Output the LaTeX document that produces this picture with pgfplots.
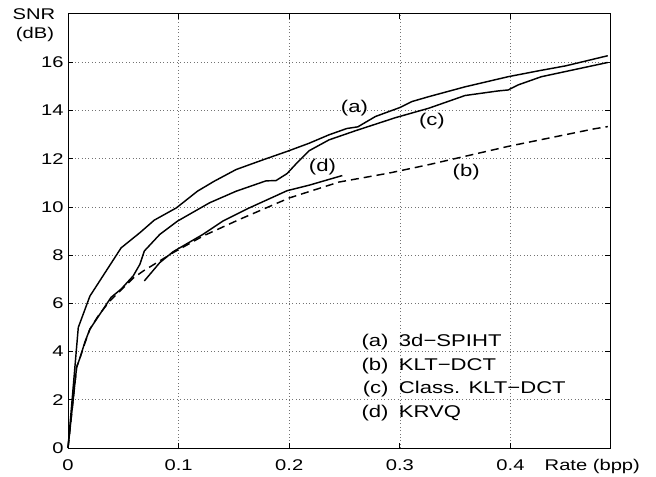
\documentclass[border=0pt]{standalone}
\usepackage{pgfplots}
\pgfplotsset{compat=1.18}
\usepackage{fontspec}
\setmainfont[FakeStretch=1.3]{Liberation Sans}
\newcommand{\tickfont}{\fontsize{15.5bp}{18bp}\selectfont}
\newcommand{\legfont}{\fontsize{17bp}{20bp}\selectfont}
\begin{document}
\begin{tikzpicture}
\begin{axis}[name=ax,
  scale only axis, width=542bp, height=434bp,
  xmin=0, xmax=0.49, ymin=0, ymax=18,
  xtick={0,0.1,0.2,0.3,0.4}, ytick={0,2,4,6,8,10,12,14,16},
  /pgf/number format/assume math mode=true,
  ticklabel style={font=\tickfont},
  xticklabel style={anchor=base, yshift=-22bp},
  yticklabel style={xshift=-1bp},
  grid=major,
  major grid style={black!55, line width=0.6bp, dash pattern=on 0.8bp off 2.6bp},
  tick align=inside, major tick length=5bp,
  tick style={black, line width=0.7bp},
  axis line style={black, line width=1bp},
  every axis plot/.append style={black, line width=1.45bp, line join=round},
  clip=false]
% (a) 3d-SPIHT
\addplot[solid] coordinates {
(0,0) (0.0093,5.0) (0.0198,6.3) (0.048,8.3) (0.065,8.93) (0.078,9.45)
(0.098,9.96) (0.117,10.65) (0.132,11.06) (0.152,11.55) (0.178,11.98)
(0.198,12.3) (0.218,12.64) (0.236,12.99) (0.252,13.25) (0.262,13.32)
(0.278,13.75) (0.30,14.12) (0.311,14.37) (0.326,14.57) (0.359,14.98)
(0.398,15.4) (0.425,15.64) (0.45,15.85) (0.488,16.27)};
% (b) KLT-DCT
\addplot[dash pattern=on 8bp off 5bp] coordinates {
(0,0) (0.0078,3.35) (0.011,3.76) (0.0153,4.35) (0.0198,4.93) (0.0273,5.48)
(0.0378,6.1) (0.048,6.55) (0.059,7.05) (0.068,7.34) (0.095,8.1) (0.122,8.79)
(0.155,9.48) (0.2,10.37) (0.245,11.03) (0.29,11.4) (0.326,11.75)
(0.398,12.51) (0.476,13.24) (0.488,13.33)};
% (c) Class. KLT-DCT
\addplot[solid] coordinates {
(0,0) (0.0078,3.35) (0.011,3.76) (0.0153,4.4) (0.0198,4.93) (0.0288,5.55)
(0.039,6.25) (0.048,6.59) (0.059,7.14) (0.065,7.62) (0.069,8.17)
(0.083,8.86) (0.099,9.41) (0.128,10.17) (0.152,10.65) (0.179,11.08)
(0.188,11.09) (0.198,11.38) (0.2075,11.85) (0.218,12.33) (0.236,12.78)
(0.26,13.16) (0.296,13.7) (0.326,14.09) (0.359,14.62) (0.389,14.81)
(0.398,14.85) (0.407,15.06) (0.428,15.4) (0.488,15.99)};
% (d) KRVQ
\addplot[solid] coordinates {
(0.069,6.93) (0.083,7.69) (0.095,8.14) (0.122,8.86) (0.14,9.41)
(0.164,9.96) (0.198,10.67) (0.218,10.9) (0.248,11.3)};
% curve labels
\node[font=\legfont] at (axis cs:0.259,14.09) {(a)};
\node[font=\legfont] at (axis cs:0.329,13.54) {(c)};
\node[font=\legfont] at (axis cs:0.23,11.65) {(d)};
\node[font=\legfont] at (axis cs:0.36,11.44) {(b)};
% legend
\node[font=\legfont, anchor=base east, inner sep=0pt] at (axis cs:0.290,4.2) {(a)};
\node[font=\legfont, anchor=base west, inner sep=0pt] at (axis cs:0.299,4.2) {3d−SPIHT};
\node[font=\legfont, anchor=base east, inner sep=0pt] at (axis cs:0.290,3.21) {(b)};
\node[font=\legfont, anchor=base west, inner sep=0pt] at (axis cs:0.299,3.21) {KLT−DCT};
\node[font=\legfont, anchor=base east, inner sep=0pt] at (axis cs:0.290,2.26) {(c)};
\node[font=\legfont, anchor=base west, inner sep=0pt] at (axis cs:0.299,2.26) {Class. KLT−DCT};
\node[font=\legfont, anchor=base east, inner sep=0pt] at (axis cs:0.290,1.27) {(d)};
\node[font=\legfont, anchor=base west, inner sep=0pt] at (axis cs:0.299,1.27) {KRVQ};
% axis labels
\node[font=\tickfont, anchor=base] at (axis cs:0.474,0) [yshift=-22bp] {Rate (bpp)};
\node[font=\tickfont] at (axis description cs:0,1) [xshift=-34bp] {SNR};
\node[font=\tickfont] at (axis description cs:0,1) [xshift=-33bp, yshift=-20bp] {(dB)};
\end{axis}
\path ([xshift=-68bp,yshift=-26bp]ax.south west) rectangle ([xshift=46bp,yshift=14bp]ax.north east);
\end{tikzpicture}
\end{document}
